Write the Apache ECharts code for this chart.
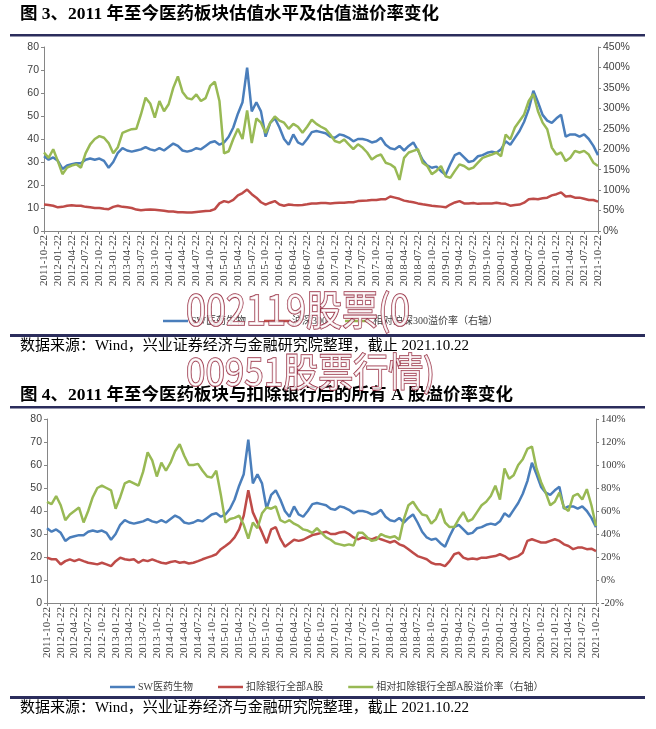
<!DOCTYPE html>
<html><head><meta charset="utf-8">
<script src="https://cdn.jsdelivr.net/npm/echarts@6/dist/echarts.min.js"></script>
<style>html,body{margin:0;padding:0;background:#fff}#c{width:656px;height:729px}</style>
</head><body><div id="c"></div>
<script>
// monthly categories 2011-10-22 .. 2021-10-22
const categories = [];
for (let y = 2011, m = 10; !(y === 2021 && m === 11);) {
  categories.push(y + '-' + String(m).padStart(2, '0') + '-22');
  m++; if (m > 12) { m = 1; y++; }
}
// SW医药生物 PE (both charts)
const swPE = [32.5,31,32,
30.5,27,28.5,29,29.5,29.5,31,31.5,31,31.5,30.5,27.5,
30,34,36,35,34.5,35,35.5,36.5,35.5,35,36,35,
36.5,38,37,35,34.5,35,36,35.5,37,38.5,39,37.5,
38.5,41,45,51,56,71,52,56,52,41,47,49,
45,40,37.5,42,38.5,37.5,40,43,43.5,43,42.5,41,
40.5,42,41.5,40.5,39,40,40,39.5,38.5,39,40.5,37.5,
36,35.5,37,35,37,38.5,35,31,28.5,27.5,28,26,
24.5,29,33,34,32,30,30.5,32.5,33,34,34.5,34,
35.5,39,37.5,40.5,43.5,47.5,53,61,56,50.5,48,47,
49,50.5,41,42,42,41,42,40,37,33];
// 沪深300 PE
const hs300PE = [11.5,11.3,11,
10.3,10.5,11,11.2,11,11,10.5,10.3,10,10,9.7,9.5,
10.5,11,10.5,10.3,10,9.3,9,9.2,9.3,9.2,9,8.8,
8.5,8.5,8.2,8.2,8,8,8.3,8.5,8.7,8.8,9.5,12,
13,12.5,13.5,15.5,16.5,18,16,14.5,12.5,11.5,12.3,13,
11.5,11,11.5,11.3,11.2,11.3,11.6,12,12,12.2,12.2,12,
12.2,12.3,12.3,12.5,12.5,13,13.2,13.3,13.5,13.5,13.8,13.8,
15,14.5,14,13.2,12.8,12.5,12,11.6,11.3,11,10.8,10.6,
10.3,11.5,12.4,13,12,12,12.2,11.8,12,12,12,12.3,
12,11.8,11,11.3,11.5,12.3,13.8,14,13.8,14.2,14.5,15.5,
16,16.8,15,15.2,14.5,14.5,14,13.5,13.5,12.8];
// 相对沪深300溢价率 (%)
const premHS300 = [192,179,200,
171,139,155,160,163,155,190,212,225,232,228,215,
190,205,240,245,249,250,285,326,312,277,318,293,
310,350,378,340,325,322,334,318,325,355,365,318,
190,195,225,250,225,295,215,275,265,240,265,280,
270,265,250,262,255,240,255,272,262,255,249,236,
220,216,224,212,200,212,204,192,175,183,187,167,
163,155,125,179,192,196,200,167,159,139,147,159,
134,130,147,163,159,151,155,167,179,183,187,192,
183,236,224,253,269,285,318,335,293,265,249,204,
187,192,171,179,196,192,196,187,167,159];
// 扣除银行全部A股 PE
const exBankPE = [19.7,19,19,
16.8,18.2,19,18.2,19,18.2,17.5,17.2,16.8,17.5,16.8,16,
18.2,19.7,19,18.7,19,17.5,18.7,18.2,19,18.2,17.5,17.2,
17.8,18.2,17.5,17.8,17.2,17.5,18.2,19,19.7,20.4,21.2,23.4,
24.8,26.3,28.5,32,38,49,39.4,35,30.7,26,32,33,
28,24.5,26,27.5,27,27.5,28.5,29.5,30,30.5,31,30,
30,30.7,31,30,28.5,27.7,28.5,28,27.7,28.5,27.7,27,
26.3,27,25.5,24.8,23.4,21.9,20.4,19.7,19,17.5,16.8,16.8,
16,18.2,21.2,21.9,19.7,19,19.3,19,19.7,19.7,20.1,20.4,
21.2,20.4,19,19.7,20.4,21.9,27,27.7,27,26.3,26.3,27,
27.7,27,25.5,24.8,23.4,24.1,24.1,23.4,23.6,22.6];
// 相对扣除银行全部A股溢价率 (%)
const premExBank = [68,66,73,
65,52,57,60,63,50,60,72,80,82,80,78,
62,72,84,86,84,82,94,111,104,90,102,95,
102,112,118,108,100,100,101,95,90,89,95,74,
50,53,54,56,48,36,50,45,58,63,62,64,
52,50,52,49,47,44,43,41,45,41,37,35,
32,31,30,31,30,41,41,37,34,35,40,38,
37,38,35,53,65,68,62,57,56,49,53,62,
50,46,46,53,59,51,53,59,65,68,73,82,
70,97,88,91,100,105,114,116,97,85,76,65,
68,76,63,60,73,75,70,79,65,47];

const names1 = ['SW医药生物', '沪深300', '相对沪深300溢价率（右轴）'];
const names2 = ['SW医药生物', '扣除银行全部A股', '相对扣除银行全部A股溢价率（右轴）'];
const COLORS = ['#4a7ebb', '#be4b48', '#98b954'];

const SANS = '"Liberation Sans", Arial, sans-serif';
const SERIF = '"Liberation Serif", "Noto Sans CJK SC", serif';
const AX = '#868686';
const LBL = '#404040';

function xAxis(gi) {
  return {
    type: 'category', gridIndex: gi, data: categories, boundaryGap: false,
    axisLine: { lineStyle: { color: AX, width: 1 } },
    axisTick: { show: true, interval: 2, length: 3, lineStyle: { color: AX } },
    axisLabel: { interval: 2, rotate: 90, margin: 4, fontSize: 11, fontFamily: SERIF, color: LBL },
    splitLine: { show: false }
  };
}
function yAxis(gi, pos, min, max, iv, fmt, fam) {
  return {
    type: 'value', gridIndex: gi, position: pos, min: min, max: max, interval: iv,
    axisLine: { show: true, lineStyle: { color: AX, width: 1 } },
    axisTick: { show: true, length: 3, lineStyle: { color: AX } },
    axisLabel: { margin: 5, fontSize: 10.5, fontFamily: fam, color: LBL, formatter: fmt },
    splitLine: { show: false }
  };
}
function line(name, data, xi, yi, color) {
  return {
    name: name, type: 'line', xAxisIndex: xi, yAxisIndex: yi, data: data,
    showSymbol: false, symbol: 'none', smooth: false, animation: false,
    lineStyle: { color: color, width: 2.5 }, itemStyle: { color: color }
  };
}
function legend(names, left, top, gap) {
  return {
    data: names, left: left, top: top, itemGap: gap, itemWidth: 25, itemHeight: 2.5,
    icon: 'rect', padding: 0,
    textStyle: { fontSize: 10, fontFamily: SERIF, color: LBL, padding: [0, 0, 0, -2] }
  };
}

const NAVY = '#2b2d5c';
const chart = echarts.init(document.getElementById('c'), null, { renderer: 'canvas' });
chart.setOption({
  animation: false,
  backgroundColor: '#fff',
  grid: [
    { left: 44, right: 58, top: 47, height: 184 },
    { left: 47, right: 60, top: 419, height: 184 }
  ],
  xAxis: [xAxis(0), xAxis(1)],
  yAxis: [
    yAxis(0, 'left', 0, 80, 10, '{value}', SANS),
    yAxis(0, 'right', 0, 450, 50, '{value}%', SANS),
    yAxis(1, 'left', 0, 80, 10, '{value}', SANS),
    yAxis(1, 'right', -20, 140, 20, '{value}%', SERIF)
  ],
  legend: [legend(names1, 163, 316, 18), legend(names2, 110, 682, 25)],
  series: [
    line(names1[0], swPE, 0, 0, COLORS[0]),
    line(names1[1], hs300PE, 0, 0, COLORS[1]),
    line(names1[2], premHS300, 0, 1, COLORS[2]),
    line(names2[0], swPE, 1, 2, COLORS[0]),
    line(names2[1], exBankPE, 1, 2, COLORS[1]),
    line(names2[2], premExBank, 1, 3, COLORS[2])
  ],
  graphic: [
    { type: 'text', left: 20, top: 6, style: { text: '图 3、2011 年至今医药板块估值水平及估值溢价率变化', font: 'bold 17.5px "Liberation Serif", "Noto Sans CJK SC"', fill: '#000' } },
    { type: 'rect', shape: { x: 10, y: 34, width: 635, height: 2.5 }, style: { fill: NAVY } },
    { type: 'rect', shape: { x: 10, y: 334, width: 635, height: 3 }, style: { fill: NAVY } },
    { type: 'text', left: 20, top: 339, style: { text: '数据来源：Wind，兴业证券经济与金融研究院整理，截止 2021.10.22', font: '15px "Liberation Serif", "Noto Sans CJK SC"', fill: '#000' } },
    { type: 'text', left: 20, top: 387, style: { text: '图 4、2011 年至今医药板块与扣除银行后的所有 A 股溢价率变化', font: 'bold 17.5px "Liberation Serif", "Noto Sans CJK SC"', fill: '#000' } },
    { type: 'rect', shape: { x: 10, y: 406, width: 635, height: 2.5 }, style: { fill: NAVY } },
    { type: 'rect', shape: { x: 10, y: 696, width: 635, height: 3 }, style: { fill: NAVY } },
    { type: 'text', left: 20, top: 701, style: { text: '数据来源：Wind，兴业证券经济与金融研究院整理，截止 2021.10.22', font: '15px "Liberation Serif", "Noto Sans CJK SC"', fill: '#000' } },
    { type: 'text', x: 186, y: 289, scaleY: 1.15, z: 100, style: { text: '002119股票(0', font: '36px "Noto Sans CJK SC"', fill: 'rgba(255,255,255,0.8)', stroke: '#9a3347', lineWidth: 1.4 } },
    { type: 'text', x: 186, y: 352, scaleY: 1.1, z: 100, style: { text: '00951股票行情)', font: '35px "Noto Sans CJK SC"', fill: 'rgba(255,255,255,0.8)', stroke: '#9a3347', lineWidth: 1.4 } }
  ]
});
</script></body></html>
